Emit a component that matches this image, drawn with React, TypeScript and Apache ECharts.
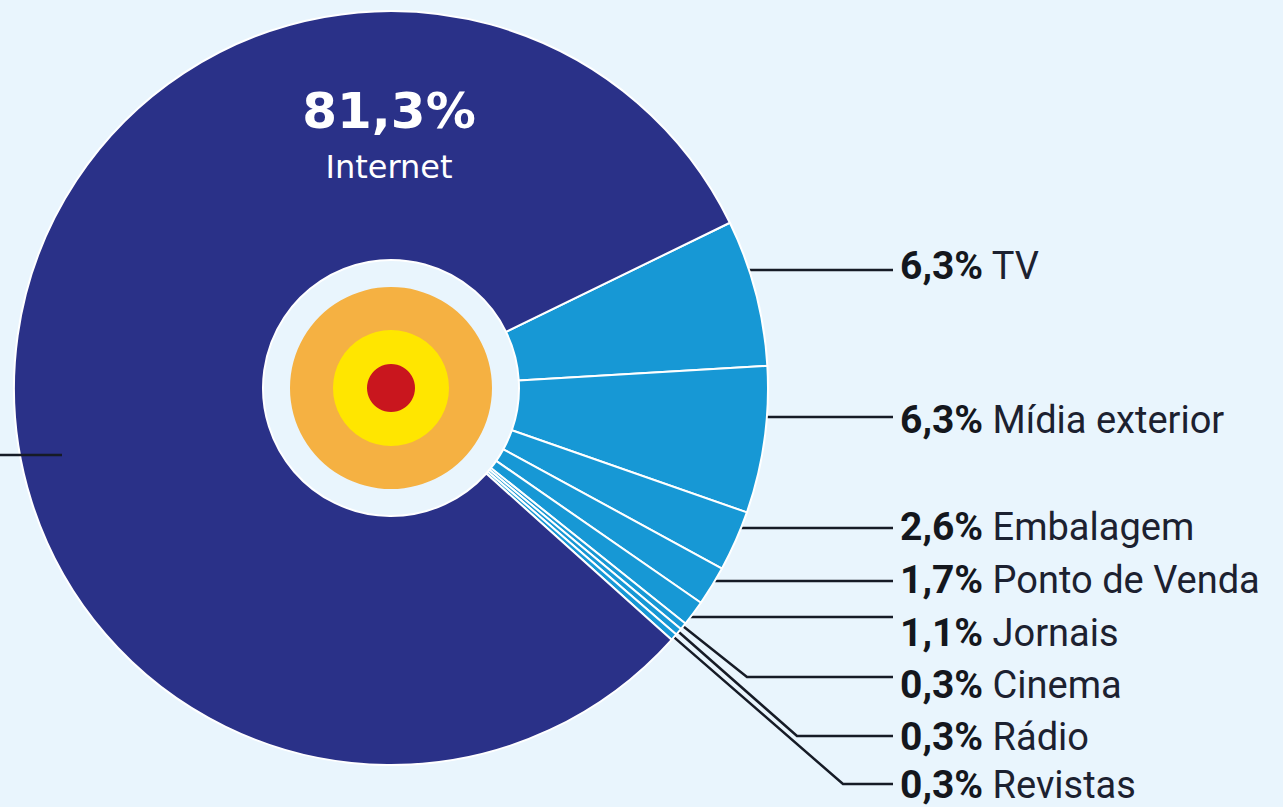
import React, { useEffect, useRef } from 'react';
import * as echarts from 'echarts';

// ---- data ----
const categories = ['TV', 'Mídia exterior', 'Embalagem', 'Ponto de Venda', 'Jornais', 'Cinema', 'Rádio', 'Revistas', 'Internet'];
const values = [6.3, 6.3, 2.6, 1.7, 1.1, 0.3, 0.3, 0.3, 81.3];

// ---- styles / layout ----
const sliceColors = ['#1798d5', '#1798d5', '#1798d5', '#1798d5', '#1798d5', '#1798d5', '#1798d5', '#1798d5', '#2a3188'];
const BG = '#e9f5fd';
const CX = 391, CY = 388, R = 377, HOLE = 128;
const START_ANGLE = 26;
const LABEL_X = 900, LINE_END_X = 893;
const lineY = [270, 417, 528, 581, 617, 677, 736, 784];
const textY = [266, 420, 527, 580, 633, 685, 737, 785];
const elbowX = [0, 0, 0, 0, 0, 747, 797, 843];
const INTERNET_LABEL = { x: 389, y: 139 };
const LINE_COLOR = '#161b26';

const fmt = (v: number) => v.toFixed(1).replace('.', ',') + '%';

function midAngleDeg(i: number) {
  const total = values.reduce((a, b) => a + b, 0);
  let acc = 0;
  for (let k = 0; k < i; k++) acc += values[k];
  return START_ANGLE - ((acc + values[i] / 2) / total) * 360;
}

export default function App() {
  const ref = useRef<HTMLDivElement>(null);
  useEffect(() => {
    document.body.style.margin = '0';
    const chart = echarts.init(ref.current!, null, { renderer: 'svg' });
    const last = categories.length - 1;
    const data = categories.map((name, i) => {
      const item: any = { name, value: values[i], itemStyle: { color: sliceColors[i] } };
      if (i === last) item.labelLine = { show: false };
      return item;
    });
    chart.setOption({
      animation: false,
      backgroundColor: BG,
      graphic: [
        { type: 'line', z: 100, shape: { x1: 0, y1: 455, x2: 62, y2: 455 }, style: { stroke: LINE_COLOR, lineWidth: 2.5 } },
      ],
      series: [
        {
          type: 'pie',
          silent: true,
          center: [CX, CY],
          radius: [HOLE, R],
          startAngle: START_ANGLE,
          clockwise: true,
          avoidLabelOverlap: false,
          emphasis: { disabled: true },
          itemStyle: { borderColor: '#ffffff', borderWidth: 2 },
          data,
          label: {
            show: true,
            position: 'outside',
            formatter: (p: any) =>
              p.dataIndex === last
                ? `{big|${fmt(p.value)}}\n{small|${p.name}}`
                : `{p|${fmt(p.value)}}{n| ${p.name}}`,
            rich: {
              p: { fontFamily: 'Roboto', fontWeight: 'bold', fontSize: 39, color: '#14171d' },
              n: { fontFamily: 'Roboto', fontWeight: 'normal', fontSize: 38, color: '#1c2130' },
              big: { fontFamily: 'DejaVu Sans', fontWeight: 'bold', fontSize: 50, color: '#ffffff', lineHeight: 56, align: 'center' },
              small: { fontFamily: 'DejaVu Sans', fontSize: 32, color: '#ffffff', lineHeight: 56, align: 'center' },
            },
          },
          labelLine: { show: true, length: 10, length2: 10, lineStyle: { color: LINE_COLOR, width: 2.5 } },
          labelLayout: (params: any) => {
            const i = params.dataIndex;
            if (i === last) {
              return { x: INTERNET_LABEL.x, y: INTERNET_LABEL.y, align: 'center', verticalAlign: 'middle' };
            }
            const ly = lineY[i];
            let pts: number[][];
            if (elbowX[i]) {
              const a = (midAngleDeg(i) * Math.PI) / 180;
              const r0 = R - 2;
              const sx = CX + r0 * Math.cos(a);
              const sy = CY - r0 * Math.sin(a);
              pts = [[sx, sy], [elbowX[i], ly], [LINE_END_X, ly]];
            } else {
              const dy = ly - CY;
              const rin = R - 4;
              const sx = Math.min(743, CX + Math.sqrt(rin * rin - dy * dy));
              pts = [[sx, ly], [(sx + LINE_END_X) / 2, ly], [LINE_END_X, ly]];
            }
            return { x: LABEL_X, y: textY[i], align: 'left', verticalAlign: 'middle', labelLinePoints: pts };
          },
        },
        {
          type: 'pie', silent: true, center: [CX, CY], radius: [0, 101], label: { show: false }, labelLine: { show: false },
          emphasis: { disabled: true }, data: [{ value: 1, name: 'o', itemStyle: { color: '#f5b142' } }],
        },
        {
          type: 'pie', silent: true, center: [CX, CY], radius: [0, 58], label: { show: false }, labelLine: { show: false },
          emphasis: { disabled: true }, data: [{ value: 1, name: 'y', itemStyle: { color: '#ffe600' } }],
        },
        {
          type: 'pie', silent: true, center: [CX, CY], radius: [0, 24], label: { show: false }, labelLine: { show: false },
          emphasis: { disabled: true }, data: [{ value: 1, name: 'r', itemStyle: { color: '#c9161e' } }],
        },
      ],
    });
    return () => chart.dispose();
  }, []);
  return <div ref={ref} style={{ width: 1283, height: 807 }} />;
}
